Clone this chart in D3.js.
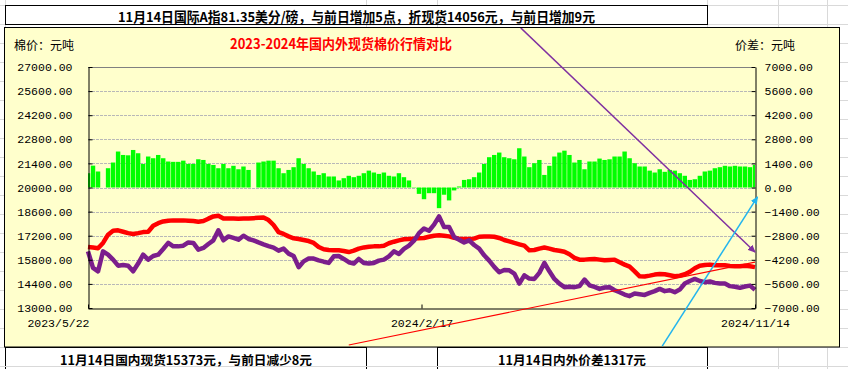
<!DOCTYPE html>
<html><head><meta charset="utf-8">
<script src="https://cdn.jsdelivr.net/npm/d3@7"></script>
<style>html,body{margin:0;padding:0;background:#fff;}svg{display:block;}</style>
</head><body>
<svg id="c" width="848" height="369"></svg>
<script>
// ---------------- data ----------------
const domestic = [
 16540,16510,16470,16780,17260,17490,17510,17430,17350,17300,
 17350,17410,17430,17780,17930,18030,18070,18090,18090,18090,
 18070,18050,18010,18050,18190,18320,18360,18200,18200,18200,
 18190,18200,18200,18220,
 18240,18260,18110,17820,17410,17300,17160,17050,17010,16950,
 16890,16780,16540,16410,16370,16350,16350,16310,16250,16330,
 16450,16520,16560,16580,16580,16620,16760,16850,16930,16990,
 17010,17030,17050,
 17070,17140,17200,17220,17200,17160,17080,17030,17010,17010,
 17030,17140,17160,17160,17140,17070,16950,16870,16780,16700,
 16620,16350,16370,16450,16510,16450,16370,16330,16270,16120,
 15910,15810,15810,15830,
 15850,15810,15770,15790,15810,15660,15520,15400,15130,14840,
 14830,14880,14940,14980,14960,14900,14840,14880,14960,15100,
 15310,15460,15500,15520,15480,15480,15480,15440,15420,15420,
 15460,15420,15373
];
const international = [
 16290,15330,15130,16290,16100,15810,15460,15500,15460,15130,
 15580,16100,15810,16020,16100,16430,16780,16580,16580,16620,
 16810,16780,16390,16490,16720,16930,17510,16930,17160,17070,
 16970,17200,17010,16930,
 16810,16700,16600,16510,16330,16450,16160,16020,15370,15710,
 15870,15870,15770,15690,15620,16000,16020,15850,15660,15580,
 15850,15620,15580,15620,15750,15810,16000,16290,16140,16430,
 16620,16910,17350,
 17620,17490,17840,18320,17700,17700,17120,16970,16810,16930,
 16660,16450,16060,15750,15390,15080,15210,15190,15000,14420,
 14900,14710,14690,15040,15620,15130,14690,14420,14210,14230,
 14210,14270,14650,14320,
 14230,14110,14190,14210,14030,13920,13780,13690,13840,13800,
 13760,13880,13980,14110,13980,14030,13920,14070,14420,14570,
 14690,14570,14500,14540,14460,14420,14420,14270,14230,14170,
 14250,14300,14056
];
const spread = [
 830,1270,930,null,1120,1450,2090,1890,1870,2180,
 1990,1370,1800,1700,1890,1700,1510,1490,1490,1560,
 1370,1370,1640,1600,1370,1310,1120,1370,1120,1260,
 1060,1220,1020,null,
 1450,1510,1560,1560,1120,830,1020,1180,1700,1370,
 1120,930,730,830,640,640,410,540,680,600,
 680,830,980,870,790,870,680,640,830,600,
 410,20,-370,
 -680,-330,-330,-1200,-420,-750,-170,60,440,480,
 600,870,1370,1760,1890,2030,1760,1700,1640,2280,
 1800,1180,1410,1600,730,1260,1800,2030,2140,1890,
 1450,1600,1060,1510,
 1510,1680,1600,1640,1800,1800,2090,1700,1410,1220,
 1220,980,870,1060,910,1020,980,830,680,440,
 480,680,930,980,1120,1180,1260,1220,1260,1220,
 1220,1180,1317
];
const xTickLabels = ["2023/5/22","2024/2/17","2024/11/14"];
const xTickIndex = [0, 66.5, 133];
const leftTicks = d3.range(13000, 27001, 1400);
const rightTicks = d3.range(-7000, 7001, 1400);
const headerText = "11月14日国际A指81.35美分/磅，与前日增加5点，折现货14056元，与前日增加9元";
const chartTitle = "2023-2024年国内外现货棉价行情对比";
const leftUnit = "棉价：元吨";
const rightUnit = "价差：元吨";
const footLeft = "11月14日国内现货15373元，与前日减少8元";
const footRight = "11月14日内外价差1317元";
// annotation arrows in data coordinates [index, value]
const arrows = [
 {color:"#8030A0", from:[86.3, 29270], to:[133, 16250], axis:"L", head:true},
 {color:"#22B4EE", from:[114.5, -9210], to:[133.5, -550], axis:"R", head:true},
 {color:"#FF0000", from:[52, 10850], to:[133, 15670], axis:"L", head:false}
];

// ---------------- drawing ----------------
const MONO = "'Liberation Mono', monospace";
const CJK = "'Noto Sans CJK SC', sans-serif";
const svg = d3.select("#c");
const W = 848, H = 369;
const P = {l:88, r:755, t:67, b:308};

// sheet grid
const grid = svg.append("g").attr("stroke","#d9d9d9").attr("stroke-width",1);
d3.range(5, H, 19).forEach(y => grid.append("line").attr("x1",0).attr("x2",W).attr("y1",y+0.5).attr("y2",y+0.5));
[5,366,437,707,778,827].forEach(x => grid.append("line").attr("x1",x+0.5).attr("x2",x+0.5).attr("y1",0).attr("y2",H));

// header box
svg.append("rect").attr("x",5.5).attr("y",5.5).attr("width",702).attr("height",19)
  .attr("fill","#fff").attr("stroke","#000");
svg.append("text").attr("x",118).attr("y",16).attr("dominant-baseline","central")
  .attr("font-family",CJK).attr("font-weight","bold").attr("font-size",13.5)
  .attr("textLength",477).attr("lengthAdjust","spacingAndGlyphs").text(headerText);

// footer boxes
svg.append("rect").attr("x",5.5).attr("y",347.5).attr("width",361).attr("height",30)
  .attr("fill","#fff").attr("stroke","#000");
svg.append("rect").attr("x",437.5).attr("y",347.5).attr("width",270).attr("height",30)
  .attr("fill","#fff").attr("stroke","#000");
svg.append("line").attr("x1",5).attr("x2",708).attr("y1",366.5).attr("y2",366.5).attr("stroke","#d9d9d9");
svg.append("text").attr("x",60).attr("y",359.5).attr("dominant-baseline","central")
  .attr("font-family",CJK).attr("font-weight","bold").attr("font-size",12.5)
  .attr("textLength",252).attr("lengthAdjust","spacingAndGlyphs").text(footLeft);
svg.append("text").attr("x",498).attr("y",359.5).attr("dominant-baseline","central")
  .attr("font-family",CJK).attr("font-weight","bold").attr("font-size",12.5)
  .attr("textLength",148).attr("lengthAdjust","spacingAndGlyphs").text(footRight);

// chart area
svg.append("rect").attr("x",4.5).attr("y",27.5).attr("width",835).attr("height",319.5)
  .attr("fill","#FFFFCC").attr("stroke","#000");

svg.append("text").attr("x",341).attr("y",43).attr("text-anchor","middle").attr("dominant-baseline","central")
  .attr("font-family",CJK).attr("font-weight","bold").attr("font-size",14).attr("fill","#FF0000")
  .attr("textLength",222).attr("lengthAdjust","spacingAndGlyphs").text(chartTitle);
svg.append("text").attr("x",14).attr("y",44).attr("dominant-baseline","central")
  .attr("font-family",CJK).attr("font-size",12).text(leftUnit);
svg.append("text").attr("x",735).attr("y",44).attr("dominant-baseline","central")
  .attr("font-family",CJK).attr("font-size",12).text(rightUnit);

// scales
const N = domestic.length;
const x = d3.scaleLinear().domain([0, N-1]).range([P.l, P.r]);
const yL = d3.scaleLinear().domain([13000, 27000]).range([P.b, P.t]);
const yR = d3.scaleLinear().domain([-7000, 7000]).range([P.b, P.t]);

// clip paths
const defs = svg.append("defs");
defs.append("clipPath").attr("id","plotclip").append("rect")
  .attr("x",P.l).attr("y",P.t).attr("width",P.r-P.l).attr("height",P.b-P.t);
defs.append("clipPath").attr("id","areaclip").append("rect")
  .attr("x",5).attr("y",28).attr("width",834).attr("height",319);

// gridlines
svg.append("g").selectAll("line").data(leftTicks.filter(v => v > 13000 && v < 27000)).join("line")
  .attr("x1",P.l).attr("x2",P.r).attr("y1",d => Math.round(yL(d))+0.5).attr("y2",d => Math.round(yL(d))+0.5)
  .attr("stroke","#b8b8b8").attr("stroke-dasharray","3,1");
svg.append("line").attr("x1",P.l).attr("x2",P.r).attr("y1",P.t+0.5).attr("y2",P.t+0.5).attr("stroke","#808080");

// bars
const step = x(1) - x(0);
const bw = step * 0.88;
svg.append("g").attr("clip-path","url(#plotclip)").selectAll("rect")
  .data(spread.map((v,i) => ({v,i})).filter(d => d.v !== null)).join("rect")
  .attr("x", d => x(d.i) - bw/2).attr("width", bw)
  .attr("y", d => Math.min(yR(d.v), yR(0))).attr("height", d => Math.abs(yR(d.v) - yR(0)))
  .attr("fill","#00FF00");

// lines
const line = d3.line().x((d,i) => x(i)).y(d => yL(d));
svg.append("path").datum(domestic).attr("d", line).attr("fill","none")
  .attr("stroke","#FF0000").attr("stroke-width",4.5).attr("stroke-linejoin","round");
svg.append("path").datum(international).attr("d", line).attr("fill","none")
  .attr("stroke","#7B1E8C").attr("stroke-width",4.5).attr("stroke-linejoin","round");

// axes
const fmt = d3.format(".2f");
const gL = svg.append("g").attr("transform",`translate(${P.l+0.5},0)`)
  .call(d3.axisLeft(yL).tickValues(leftTicks).tickFormat(fmt).tickSizeInner(-4).tickSizeOuter(0).tickPadding(16));
const gR = svg.append("g").attr("transform",`translate(${P.r+0.5},0)`)
  .call(d3.axisRight(yR).tickValues(rightTicks).tickFormat(fmt).tickSizeInner(-4).tickSizeOuter(0).tickPadding(9));
const gB = svg.append("g").attr("transform",`translate(0,${P.b+0.5})`)
  .call(d3.axisBottom(x).tickValues(xTickIndex).tickFormat((d,i) => xTickLabels[i]).tickSizeInner(-4).tickSizeOuter(0));
[gL,gR,gB].forEach(g => {
  g.select(".domain").attr("stroke","#000");
  g.selectAll(".tick line").attr("stroke","#000");
  g.selectAll("text").attr("font-family",MONO).attr("font-size",11.5).attr("fill","#000");
});
gB.selectAll("text").attr("y",14).attr("dy","0.35em");
gB.selectAll("text").filter((d,i) => i === 0).attr("text-anchor","end").attr("dx",1);

// annotation arrows
const ann = svg.append("g").attr("clip-path","url(#areaclip)");
arrows.forEach((a,k) => {
  const ys = a.axis === "L" ? yL : yR;
  if (a.head) {
    defs.append("marker").attr("id","ah"+k).attr("viewBox","0 -4 8 8").attr("refX",7).attr("refY",0)
      .attr("markerUnits","userSpaceOnUse").attr("markerWidth",8).attr("markerHeight",8).attr("orient","auto")
      .append("path").attr("d","M0,-3.5L8,0L0,3.5Z").attr("fill",a.color);
  }
  const ln = ann.append("line")
    .attr("x1",x(a.from[0])).attr("y1",ys(a.from[1])).attr("x2",x(a.to[0])).attr("y2",ys(a.to[1]))
    .attr("stroke",a.color).attr("stroke-width",a.head ? 1.5 : 1.2);
  if (a.head) ln.attr("marker-end","url(#ah"+k+")");
});
</script>
</body></html>
